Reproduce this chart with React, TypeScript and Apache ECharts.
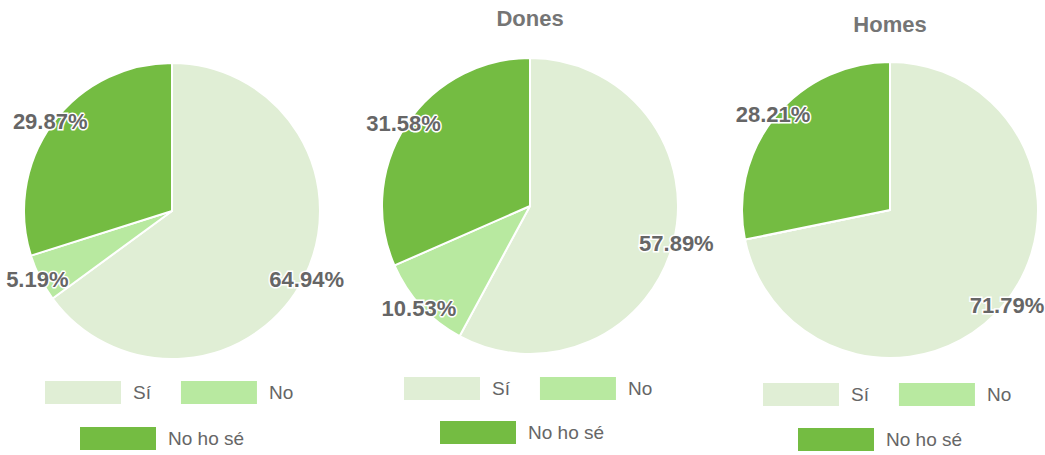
import React, { useEffect, useRef } from "react";
import * as echarts from "echarts";

const categories = ["Sí", "No", "No ho sé"];
const colors = ["#e0eed5", "#b8e9a0", "#74bc42"];
const totalCounts = [50, 4, 23];
const donesCounts = [11, 2, 6];
const homesCounts = [28, 0, 11];
const titles = ["", "Dones", "Homes"];

const pies = [
  { counts: totalCounts, title: titles[0], cx: 172, cy: 211, titleTop: 0, leg1: [45, 381], leg2: [80, 427] },
  { counts: donesCounts, title: titles[1], cx: 530, cy: 206, titleTop: 7, leg1: [404, 377], leg2: [440, 421] },
  { counts: homesCounts, title: titles[2], cx: 890, cy: 210, titleTop: 13, leg1: [763, 383], leg2: [798, 428] },
];

const R = 148;

export default function App() {
  const ref = useRef<HTMLDivElement>(null);
  useEffect(() => {
    if (!ref.current) return;
    const chart = echarts.init(ref.current, undefined, { renderer: "svg" });
    const series: any[] = [];
    const legends: any[] = [];
    const titleArr: any[] = [];
    pies.forEach((p) => {
      const data = categories.map((name, k) => ({
        name,
        value: p.counts[k],
        itemStyle: { color: colors[k] },
      }));
      series.push({
        type: "pie",
        center: [p.cx, p.cy],
        radius: [0, R],
        startAngle: 90,
        clockwise: true,
        silent: true,
        label: { show: false },
        labelLine: { show: false },
        itemStyle: { borderColor: "#ffffff", borderWidth: 2 },
        data,
      });
      series.push({
        type: "pie",
        center: [p.cx, p.cy],
        radius: [R - 30, R + 30],
        startAngle: 90,
        clockwise: true,
        silent: true,
        minShowLabelAngle: 1,
        itemStyle: { color: "transparent", borderWidth: 0 },
        label: {
          show: true,
          position: "inside",
          formatter: "{d}%",
          fontFamily: "Liberation Sans, Arial, sans-serif",
          fontSize: 22,
          fontWeight: "bold",
          color: "#666666",
          textBorderColor: "#ffffff",
          textBorderWidth: 3,
        },
        labelLine: { show: false },
        data: categories.map((name, k) => ({ name, value: p.counts[k] })),
      });
      if (p.title) {
        titleArr.push({
          text: p.title,
          left: p.cx,
          top: p.titleTop,
          textAlign: "center",
          padding: 0,
          textStyle: {
            fontFamily: "Liberation Sans, Arial, sans-serif",
            fontSize: 22,
            fontWeight: "bold",
            color: "#757575",
          },
        });
      }
      const legendCommon = {
        orient: "horizontal",
        icon: "rect",
        itemWidth: 76,
        itemHeight: 23,
        itemGap: 30,
        padding: 0,
        selectedMode: false,
        itemStyle: { borderWidth: 0 },
        textStyle: {
          fontFamily: "Liberation Sans, Arial, sans-serif",
          fontSize: 19,
          color: "#666666",
          padding: [0, 0, 0, 7],
        },
      };
      legends.push({ ...legendCommon, left: p.leg1[0], top: p.leg1[1], data: [categories[0], categories[1]] });
      legends.push({ ...legendCommon, left: p.leg2[0], top: p.leg2[1], data: [categories[2]] });
    });
    chart.setOption({
      animation: false,
      backgroundColor: "#ffffff",
      title: titleArr,
      legend: legends,
      series,
    });
    return () => chart.dispose();
  }, []);
  return (
    <div
      ref={ref}
      style={{ position: "absolute", left: 0, top: 0, width: 1045, height: 455 }}
    />
  );
}
